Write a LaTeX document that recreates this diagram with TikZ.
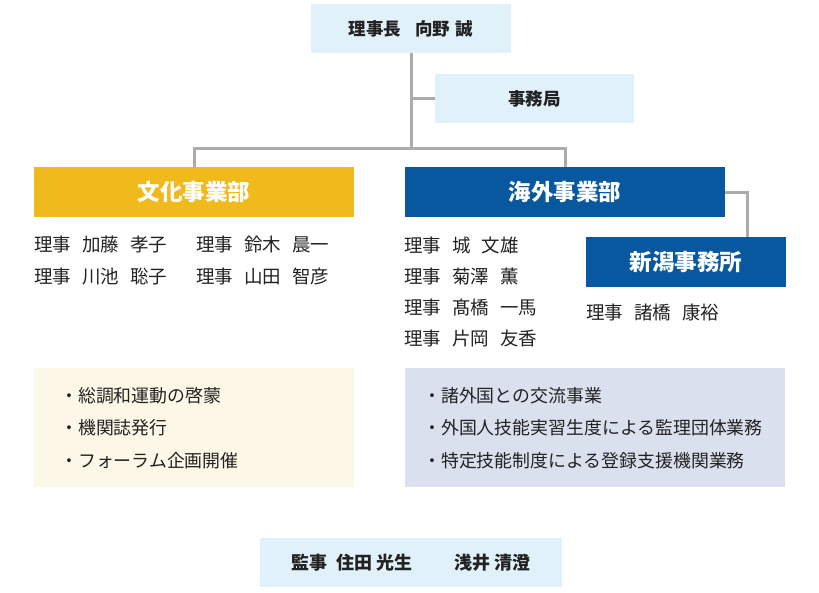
\documentclass[tikz,border=0pt]{standalone}
\usepackage{fontspec}
\setmainfont{Noto Sans CJK JP}
\definecolor{paleblue}{HTML}{E0F1FA}
\definecolor{gold}{HTML}{F0BA1D}
\definecolor{navy}{HTML}{07589F}
\definecolor{cream}{HTML}{FDF7E7}
\definecolor{lavender}{HTML}{DAE0EE}
\definecolor{linegray}{HTML}{ABABAB}
\definecolor{ink}{HTML}{222222}

\begin{document}
\begin{tikzpicture}[x=1pt, y=-1pt,
    box/.style={rectangle, inner sep=0pt, fill=paleblue, text=ink,
        font=\bfseries\fontsize{17.5}{20}\selectfont},
    dept/.style={rectangle, inner sep=0pt, text=white,
        font=\bfseries\fontsize{22.5}{26}\selectfont},
    conn/.style={draw=linegray, line width=3pt},
    names/.style={anchor=west, inner sep=0pt, align=left, text=ink,
        font=\fontsize{18.5}{31.3}\selectfont},
    panel/.style={rectangle, inner sep=0pt, minimum width=320pt, minimum height=119pt},
    items/.style={anchor=west, inner sep=0pt, align=left, text=ink,
        font=\fontsize{17.9}{32.5}\selectfont}]
    \useasboundingbox (0,0) rectangle (819,592);

    % Top of the chart
    \node[box, minimum width=200pt, minimum height=49pt] (chair) at (411,28.5)
        {理事長\hspace{14pt}向野\hspace{6pt}誠};
    \node[box, minimum width=199pt, minimum height=49pt] (office) at (534.5,98.5) {事務局};

    % Departments
    \node[dept, fill=gold, minimum width=320pt, minimum height=50pt] (culture) at (194,192) {文化事業部};
    \node[dept, fill=navy, minimum width=320pt, minimum height=50pt] (overseas) at (565,192) {海外事業部};
    \node[dept, fill=navy, minimum width=200pt, minimum height=50pt] (niigata) at (686,262) {新潟事務所};

    % Connectors
    \coordinate (split) at (411,148);
    \coordinate (nbend) at (747,237);
    \draw[conn] (chair.south) -- (split);
    \draw[conn] (culture.north) |- (split) -| (overseas.north);
    \draw[conn] (office.west) -- (office.west -| chair.south);
    \draw[conn] (overseas.east) -| (nbend);

    % Directors
    \node[names] (cultureA) at (34,260.5)
        {理事\hspace{11pt}加藤\hspace{11pt}孝子\\理事\hspace{11pt}川池\hspace{11pt}聡子};
    \node[names] (cultureB) at (196,260.5)
        {理事\hspace{11pt}鈴木\hspace{11pt}晨一\\理事\hspace{11pt}山田\hspace{11pt}智彦};
    \node[names] (overseasA) at (404,292)
        {理事\hspace{11pt}城\hspace{11pt}文雄\\理事\hspace{11pt}菊澤\hspace{11pt}薫\\
         理事\hspace{11pt}髙橋\hspace{11pt}一馬\\理事\hspace{11pt}片岡\hspace{11pt}友香};
    \node[names] (niigataA) at (586,313) {理事\hspace{11pt}諸橋\hspace{11pt}康裕};

    % Activities
    \node[panel, fill=cream] (culturePanel) at (194,427.5) {};
    \node[panel, fill=lavender, minimum width=380pt] (overseasPanel) at (595,427.5) {};
    \node[items] (cultureList) at (60,428)
        {・総調和運動の啓蒙\\・機関誌発行\\・フォーラム企画開催};
    \node[items] (overseasList) at (423,428)
        {・諸外国との交流事業\\・外国人技能実習生度による監理団体業務\\・特定技能制度による登録支援機関業務};

    % Auditors
    \node[box, minimum width=302pt, minimum height=49pt, font=\bfseries\fontsize{18}{20}\selectfont] (audit) at (411,562.5)
        {監事\hspace{9pt}住田\hspace{4pt}光生\hspace{42pt}浅井\hspace{4pt}清澄\hspace{9pt}};
\end{tikzpicture}
\end{document}
